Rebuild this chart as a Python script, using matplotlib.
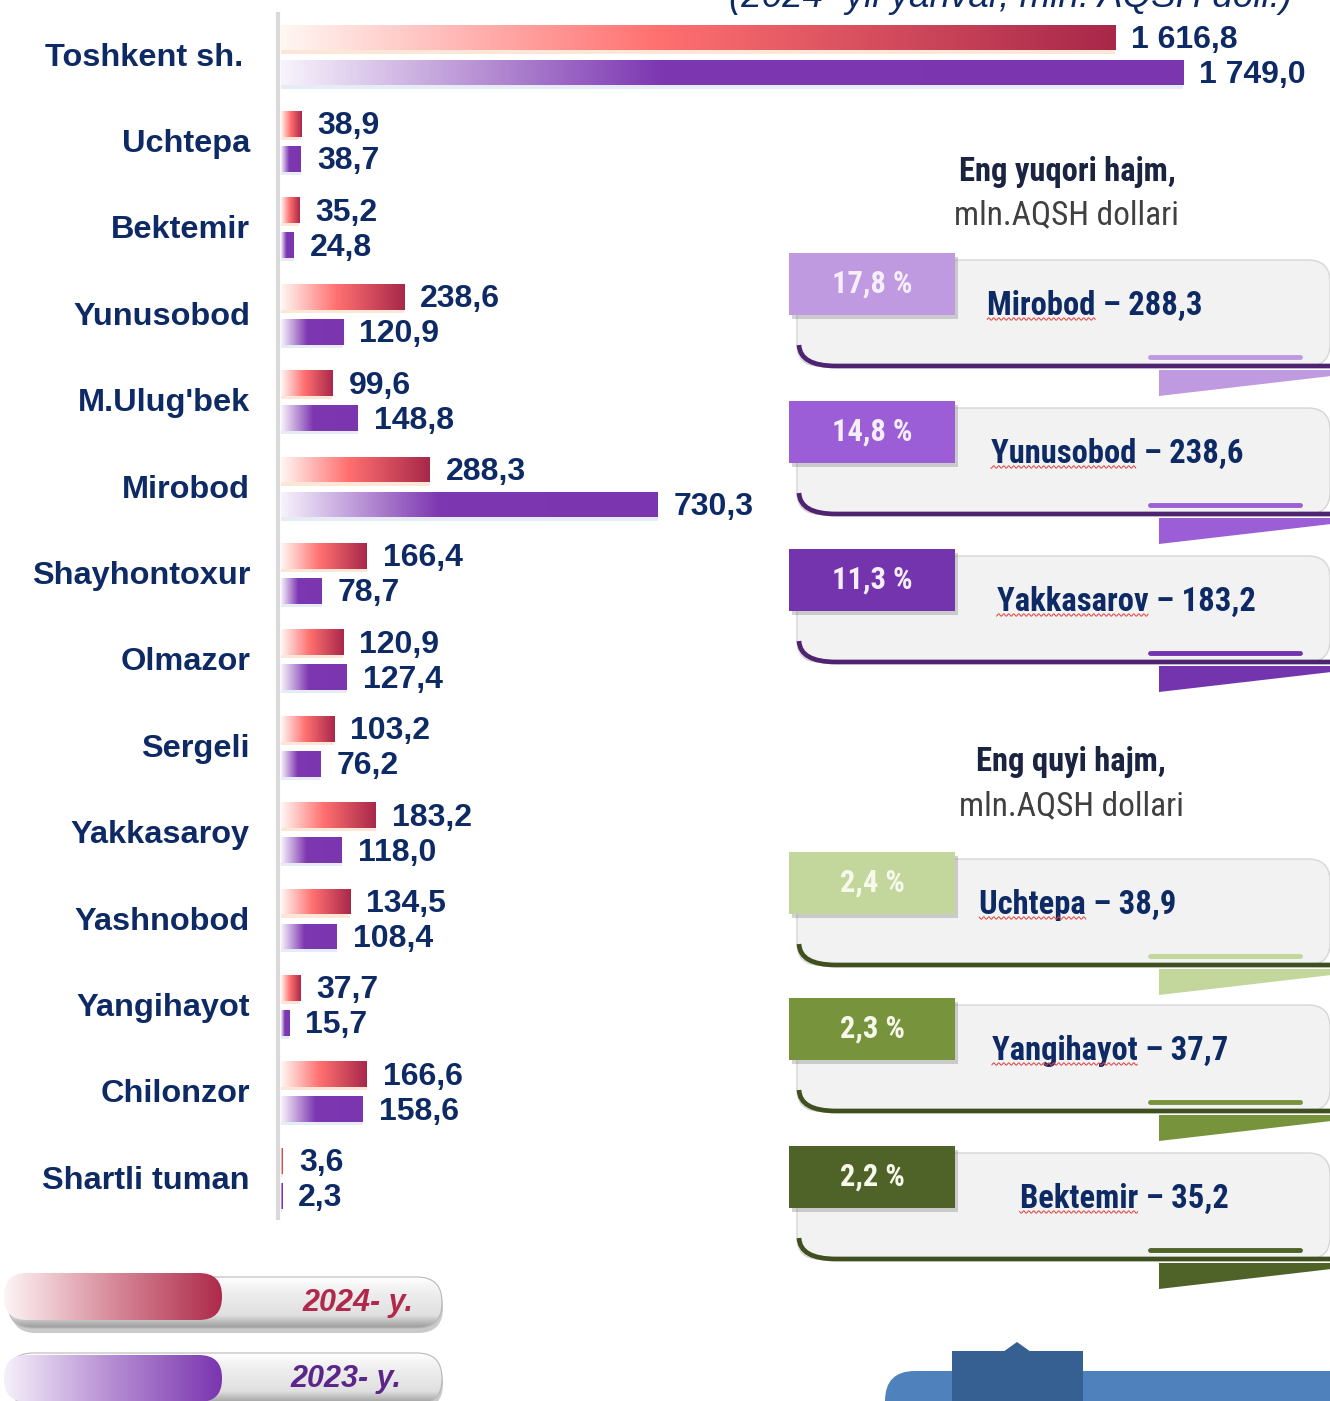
import numpy as np
import matplotlib
matplotlib.use("Agg")
import matplotlib.pyplot as plt
from matplotlib.colors import LinearSegmentedColormap
from matplotlib.patches import Rectangle, FancyBboxPatch, Polygon, PathPatch
from matplotlib.path import Path
from matplotlib.text import Text
from matplotlib import font_manager

# data
districts = ["Toshkent sh.", "Uchtepa", "Bektemir", "Yunusobod", "M.Ulug'bek", "Mirobod",
             "Shayhontoxur", "Olmazor", "Sergeli", "Yakkasaroy", "Yashnobod", "Yangihayot",
             "Chilonzor", "Shartli tuman"]
vals_2024 = [1616.8, 38.9, 35.2, 238.6, 99.6, 288.3, 166.4, 120.9, 103.2, 183.2, 134.5, 37.7, 166.6, 3.6]
vals_2023 = [1749.0, 38.7, 24.8, 120.9, 148.8, 730.3, 78.7, 127.4, 76.2, 118.0, 108.4, 15.7, 158.6, 2.3]

top_names = ["Mirobod", "Yunusobod", "Yakkasarov"]
top_vals = ["288,3", "238,6", "183,2"]
top_shares = ["17,8 %", "14,8 %", "11,3 %"]
low_names = ["Uchtepa", "Yangihayot", "Bektemir"]
low_vals = ["38,9", "37,7", "35,2"]
low_shares = ["2,4 %", "2,3 %", "2,2 %"]

title = "(2024- yil yanvar, mln. AQSH doll.)"
legend_labels = ["2024- y.", "2023- y."]

NAVY = "#0E2A64"
W, H = 1330, 1401

# pick a condensed face if one is installed
ttf = font_manager.fontManager.ttflist
installed = {f.name for f in ttf}
NARROW, NSTRETCH, NS = "Liberation Sans", "normal", 0.84
for name in ("Liberation Sans Narrow", "Roboto Condensed", "Open Sans Condensed"):
    if name in installed:
        NARROW, NS = name, 1.0
        break
else:
    for fam in ("Roboto", "Open Sans", "Noto Sans", "DejaVu Sans"):
        if any(f.name == fam and "condensed" in str(f.stretch) for f in ttf):
            NARROW, NSTRETCH, NS = fam, "condensed", 0.92
            break
plt.rcParams["font.family"] = ["Liberation Sans", "DejaVu Sans"]
nkw = dict(family=NARROW, fontstretch=NSTRETCH)

red_cmap = LinearSegmentedColormap.from_list("r", [(0, "#FFF6F2"), (0.45, "#FF7070"), (1, "#A8284A")])
pur_cmap = LinearSegmentedColormap.from_list("p", [(0, "#F7F2FB"), (0.42, "#7D37B1"), (1, "#7B35AE")])
grad = np.linspace(0, 1, 256).reshape(1, -1)


def fmt(v):
    return f"{v:,.1f}".replace(",", " ").replace(".", ",")


fig = plt.figure(figsize=(W / 100, H / 100), dpi=100)

# overlay axes in pixel units for decorations
ov = fig.add_axes([0, 0, 1, 1], zorder=0)
ov.set_axis_off()

# bar axes
X0 = 281
SCALE = 0.516  # px per unit
ROW0, ROWH = 55, 86.4
ax = fig.add_axes([X0 / W, 0, 1 - X0 / W, 1], zorder=1)
ax.patch.set_alpha(0)
ax.set_axis_off()

pos = np.arange(len(districts))
off = 17.5 / ROWH
bh = 26 / ROWH
tdy = 2.5 / ROWH  # text visual centring

# soft glow under bars
ax.barh(pos - off + 3 / ROWH, vals_2024, height=bh, color="#F8B888", alpha=0.35, zorder=1)
ax.barh(pos + off + 3 / ROWH, vals_2023, height=bh, color="#C9D7EA", alpha=0.45, zorder=1)

bars24 = ax.barh(pos - off, vals_2024, height=bh, color="none", edgecolor="none", zorder=2)
bars23 = ax.barh(pos + off, vals_2023, height=bh, color="none", edgecolor="none", zorder=2)
for bars, cmap in ((bars24, red_cmap), (bars23, pur_cmap)):
    for r in bars:
        x, y, w, h = r.get_x(), r.get_y(), r.get_width(), r.get_height()
        im = ax.imshow(grad, cmap=cmap, extent=(x, x + w, y + h, y), aspect="auto",
                       interpolation="bilinear", zorder=2)
        im.set_clip_path(r)

lab_off = 16 / SCALE
name_right = [243] + [250] * (len(districts) - 1)
for i, (a, b) in enumerate(zip(vals_2024, vals_2023)):
    ax.text(a + lab_off, i - off + tdy, fmt(a), ha="left", va="center", fontsize=23,
            fontweight="bold", color=NAVY)
    ax.text(b + lab_off, i + off + tdy, fmt(b), ha="left", va="center", fontsize=23,
            fontweight="bold", color=NAVY)
    ax.text(-(X0 - name_right[i]) / SCALE, i + tdy, districts[i], ha="right", va="center",
            fontsize=23.4, fontweight="bold", color=NAVY)

ax.set_xlim(0, (W - X0) / SCALE)
ax.set_ylim((H - ROW0) / ROWH, -ROW0 / ROWH)

# axis line
ov.plot([278, 278], [12, 1220], color="#D9D9D9", lw=3, solid_capstyle="butt")

# title (cut at the top edge like the source)
ov.text(1292, 7, title, ha="right", va="baseline", fontsize=26.5, style="italic", color=NAVY)

# right panels
ov.text(1067, 172, "Eng yuqori hajm,", ha="center", va="center", fontsize=23.5 * NS,
        fontweight="bold", color="#1A2340", **nkw)
ov.text(1066, 215, "mln.AQSH dollari", ha="center", va="center", fontsize=24 * NS,
        color="#404040", **nkw)
ov.text(1071, 762, "Eng quyi hajm,", ha="center", va="center", fontsize=23.5 * NS,
        fontweight="bold", color="#1A2340", **nkw)
ov.text(1071, 806, "mln.AQSH dollari", ha="center", va="center", fontsize=24 * NS,
        color="#404040", **nkw)

card_tops = [253, 401, 549, 852, 998, 1146]
card_text_x = [1095, 1117, 1126, 1078, 1110, 1124]
tab_colors = ["#C09AE0", "#9B5ED6", "#7434AE", "#C3D69B", "#77933C", "#4F6228"]
edge_colors = ["#4E2470"] * 3 + ["#3F4F1F"] * 3
share_colors = ["#F6EEFB"] * 3 + ["#F6F9EC"] * 3
names = top_names + low_names
vals = top_vals + low_vals
shares = top_shares + low_shares

name_texts = []
for k, y0 in enumerate(card_tops):
    tc = tab_colors[k]
    body = FancyBboxPatch((797, y0 + 7), 533, 106, boxstyle="round,pad=0,rounding_size=22",
                          fc="#F2F2F2", ec="#D6D6D6", lw=1, zorder=1)
    ov.add_patch(body)
    verts = [(799, y0 + 92), (800, y0 + 113), (836, y0 + 113), (1340, y0 + 113)]
    codes = [Path.MOVETO, Path.CURVE3, Path.CURVE3, Path.LINETO]
    ov.add_patch(PathPatch(Path(verts, codes), fill=False, ec=edge_colors[k], lw=3.4, zorder=2))
    ov.plot([1150, 1300], [y0 + 104, y0 + 104], color=tc, lw=3.5, solid_capstyle="round", zorder=2)
    ov.add_patch(Polygon([(1159, y0 + 117), (1340, y0 + 117), (1340, y0 + 122), (1159, y0 + 143)],
                         closed=True, fc=tc, ec="none", zorder=2))
    ov.add_patch(Rectangle((792, y0 + 4), 166, 62, fc="#707070", alpha=0.3, ec="none", zorder=2))
    ov.add_patch(Rectangle((789, y0), 166, 62, fc=tc, ec="none", zorder=3))
    ov.text(872, y0 + 31, shares[k], ha="center", va="center", fontsize=22 * NS,
            fontweight="bold", color=share_colors[k], zorder=4, **nkw)
    t = ov.text(card_text_x[k], y0 + 53, f"{names[k]} \u2013 {vals[k]}", ha="center", va="center",
                fontsize=23.5 * NS, fontweight="bold", color=NAVY, zorder=4, **nkw)
    name_texts.append(t)


# legend pills
def pill(x, y, w, h, r, **kw):
    return FancyBboxPatch((x, y), w, h, boxstyle=f"round,pad=0,rounding_size={r}", **kw)


gloss = LinearSegmentedColormap.from_list("g", [(0, "#FFFFFF"), (0.3, "#EEEEEE"), (0.75, "#E0E0E0"), (1, "#9A9A9A")])
red_leg = LinearSegmentedColormap.from_list("rl", ["#FDF5F6", "#D78A9A", "#AE2A4A"])
pur_leg = LinearSegmentedColormap.from_list("pl", ["#F6F0FA", "#B48CD2", "#7B35B0"])
vgrad = np.linspace(0, 1, 128).reshape(-1, 1)

for (gy, cy, cmap, txt, tx, tcol) in ((1277, 1273, red_leg, legend_labels[0], 413, "#B0284C"),
                                      (1353, 1355, pur_leg, legend_labels[1], 401, "#5C2589")):
    sh = pill(11, gy + 5, 432, 51, 25, fc="#8A8A8A", ec="none", alpha=0.45, zorder=1)
    ov.add_patch(sh)
    gp = pill(8, gy, 434, 51, 25, fc="none", ec="#B8B8B8", lw=0.8, zorder=3)
    ov.add_patch(gp)
    im = ov.imshow(vgrad, cmap=gloss, extent=(8, 442, gy + 51, gy), aspect="auto", zorder=2)
    im.set_clip_path(gp)
    cp = pill(4, cy, 218, 47, 23, fc="none", ec="none", zorder=4)
    ov.add_patch(cp)
    im2 = ov.imshow(grad, cmap=cmap, extent=(4, 222, cy + 47, cy), aspect="auto", zorder=4)
    im2.set_clip_path(cp)
    ov.text(tx, gy + 26, txt, ha="right", va="center", fontsize=22, fontweight="bold",
            style="italic", color=tcol, zorder=5)

# blue shapes at bottom right
ov.add_patch(pill(885, 1371, 480, 80, 30, fc="#4F81BD", ec="none", zorder=1))
ov.add_patch(Rectangle((952, 1351), 131, 60, fc="#376092", ec="none", zorder=2))
ov.add_patch(Polygon([(1003, 1352), (1017, 1342), (1031, 1352)], closed=True, fc="#376092", ec="none", zorder=2))

ov.set_xlim(0, W)
ov.set_ylim(H, 0)

# red wavy spell-check underline under district names in cards
fig.canvas.draw()
rend = fig.canvas.get_renderer()
inv = ov.transData.inverted()
for k, t in enumerate(name_texts):
    bb = t.get_window_extent(rend)
    tmp = Text(0, 0, names[k], fontsize=t.get_fontsize(), fontweight="bold", **nkw)
    tmp.set_figure(fig)
    nw = tmp.get_window_extent(rend).width
    (xa, _), (xb, _) = inv.transform([(bb.x0, 0), (bb.x0 + nw, 0)])
    yb = card_tops[k] + 53 + 13
    xs = np.arange(xa, xb, 0.5)
    ov.plot(xs, yb + 1.2 * np.sin(xs * 2 * np.pi / 5), color="#E04040", lw=0.7, zorder=4)

ov.set_xlim(0, W)
ov.set_ylim(H, 0)
fig.savefig("out.png", dpi=100)
